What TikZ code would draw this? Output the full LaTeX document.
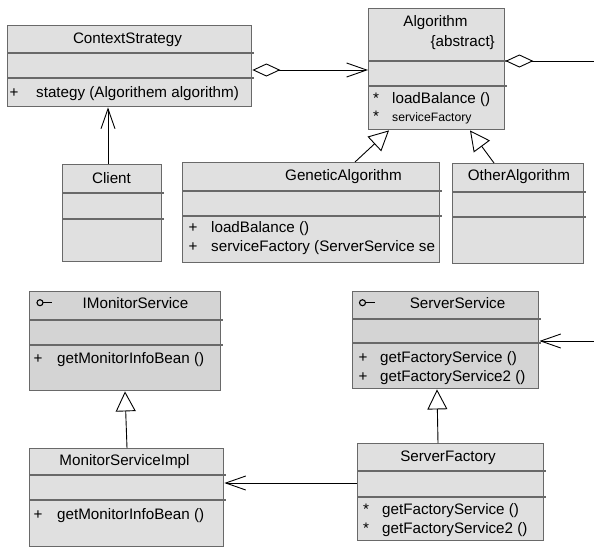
\documentclass[tikz,border=0pt]{standalone}
\usepackage{fontspec}
\setmainfont{Liberation Sans}
\usetikzlibrary{arrows.meta,calc}
\definecolor{boxfill}{RGB}{224,224,224}
\definecolor{ifill}{RGB}{212,212,212}
\definecolor{boxline}{RGB}{105,105,105}
\newcommand\umlbox[8][boxfill]{%
  \node[classbox, fill=#1, minimum width={#5pt-#3pt}, minimum height={#6pt-#4pt}] (#2) at (#3,#4) {};
  \draw[divider] (#3,#7) -- (#5+3,#7);
  \draw[divider] (#3,#8) -- (#5+3,#8);
}
\begin{document}
\begin{tikzpicture}[x=1pt,y=-1pt,
  classbox/.style={draw=boxline, line width=1.4pt, inner sep=0pt, anchor=north west},
  divider/.style={draw=boxline, line width=1.4pt},
  txt/.style={font=\fontsize{15.2}{18}\selectfont, inner sep=0pt, anchor=base},
  txtl/.style={txt, anchor=base west},
  smalltxt/.style={font=\fontsize{12.2}{14}\selectfont, inner sep=0pt, anchor=base west},
  conn/.style={draw=black, line width=0.9pt},
  inh/.style={conn, -{Triangle[open, length=20pt, width=20pt, fill=white]}},
  assoc/.style={conn, -{Straight Barb[length=20pt, width=14pt]}},
  aggassoc/.style={conn, {Diamond[open, length=28pt, width=13pt, fill=white]}-{Straight Barb[length=20pt, width=14pt]}},
  agg/.style={conn, {Diamond[open, length=28pt, width=13pt, fill=white]}-},
  ifsym/.style={draw=black, line width=1.1pt}
]
\useasboundingbox (0,0) rectangle (594,547);
\fill[white] (0,0) rectangle (594,547);

% boxes
\umlbox{cs}{7}{25}{251}{106}{53}{78}
\umlbox{alg}{368}{8}{504}{129}{61}{86}
\umlbox{client}{62}{164}{161}{261}{193}{219}
\umlbox{gen}{182}{162}{439}{262}{191}{216}
\umlbox{other}{452}{163}{583}{263}{192}{217}
\umlbox[ifill]{ims}{29}{291}{220}{390}{320}{345}
\umlbox[ifill]{ss}{352}{291}{538}{388}{319}{343}
\umlbox{msi}{29}{448}{223}{545.5}{475}{500}
\umlbox{sf}{357}{443}{543}{540}{471}{497}

% texts
\node[txt] (cst) at (127.5,43) {ContextStrategy};
\node[txt] (csp) at (14,97) {+};
\node[txtl] (csm) at (36,97) {stategy (Algorithem algorithm)};

\node[txt] (algt) at (435.5,26) {Algorithm};
\node[txt, anchor=base east] (alga) at (495,46) {\{abstract\}};
\node[txt] (algs1) at (376,103) {*};
\node[txtl] (algm1) at (392,103) {loadBalance ()};
\node[txt] (algs2) at (376,121) {*};
\node[smalltxt] (algm2) at (392,121) {serviceFactory};

\node[txt] (clt) at (111.5,183) {Client};

\begin{scope}
\clip (182,162) rectangle (439,262);
\node[txt] (gent) at (343.5,180) {GeneticAlgorithm};
\node[txt] (genp1) at (193,232) {+};
\node[txtl] (genm1) at (211,232) {loadBalance ()};
\node[txt] (genp2) at (193,251) {+};
\node[txtl] (genm2) at (211,251) {serviceFactory (ServerService se};
\end{scope}

\node[txt] (otht) at (519,180) {OtherAlgorithm};

\draw[ifsym] (40,302.7) circle (3);
\draw[ifsym] (43,302.7) -- (52,302.7);
\node[txt] (imst) at (135.5,308.5) {IMonitorService};
\node[txt] (imsp) at (38,363) {+};
\node[txtl] (imsm) at (57,363) {getMonitorInfoBean ()};

\draw[ifsym] (362.5,302.7) circle (3);
\draw[ifsym] (365.5,302.7) -- (375,302.7);
\node[txt] (sst) at (457.5,308.5) {ServerService};
\node[txt] (ssp1) at (363,362) {+};
\node[txtl] (ssm1) at (380,362) {getFactoryService ()};
\node[txt] (ssp2) at (363,381) {+};
\node[txtl] (ssm2) at (380,381) {getFactoryService2 ()};

\node[txt] (msit) at (124.5,465) {MonitorServiceImpl};
\node[txt] (msip) at (38,519) {+};
\node[txtl] (msim) at (57,519) {getMonitorInfoBean ()};

\node[txt] (sft) at (448,461) {ServerFactory};
\node[txt] (sfs1) at (366,514) {*};
\node[txtl] (sfm1) at (382,514) {getFactoryService ()};
\node[txt] (sfs2) at (366,533) {*};
\node[txtl] (sfm2) at (382,533) {getFactoryService2 ()};

% connectors
\coordinate (algend) at (594,61);
\coordinate (ssin) at (594,341);
\draw[assoc] ($(client.north west)+(46,0)$) -- ($(cs.south west)+(101,0)$);
\draw[aggassoc] ($(cs.north east)+(0,45)$) -- ($(alg.north west)+(0,62)$);
\draw[agg] ($(alg.north east)+(0,53)$) -- (algend);
\draw[inh] ($(gen.north west)+(173,0)$) -- ($(alg.south west)+(21,0)$);
\draw[inh] ($(other.north west)+(42,0)$) -- ($(alg.south west)+(102,0)$);
\draw[inh] ($(msi.north west)+(98,0)$) -- ($(ims.south west)+(96,0)$);
\draw[inh] ($(sf.north west)+(81,0)$) -- ($(ss.south west)+(85,0)$);
\draw[assoc] ($(sf.north west)+(0,40)$) -- ($(msi.north east)+(0,35)$);
\draw[assoc] (ssin) -- ($(ss.north east)+(0,50)$);
\end{tikzpicture}
\end{document}
